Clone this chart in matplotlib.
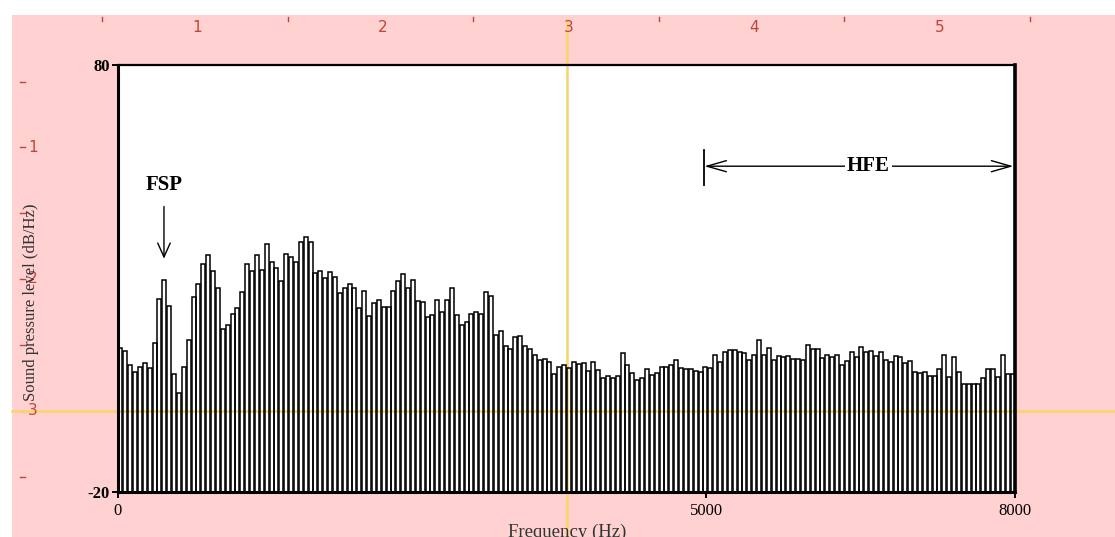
import numpy as np
import matplotlib
matplotlib.use("Agg")
import matplotlib.pyplot as plt
from matplotlib.patches import Rectangle

# Long-term average spectrum: level per frequency band (dB/Hz), 0-8000 Hz
levels_db = [
    13.8, 13.1, 9.7, 8.2, 9.3, 10.3, 9.0, 15.0, 25.2, 29.6,
    23.6, 7.6, 3.3, 9.3, 15.6, 25.6, 28.6, 33.3, 35.5, 31.8,
    27.7, 18.2, 19.1, 21.7, 23.0, 26.8, 33.3, 31.8, 35.5, 32.0,
    38.0, 33.9, 32.4, 29.5, 35.8, 35.0, 33.9, 38.5, 39.8, 38.5,
    31.2, 31.8, 30.1, 31.6, 30.4, 26.5, 27.8, 28.7, 27.8, 23.1,
    27.1, 21.3, 24.3, 24.9, 23.3, 23.3, 27.1, 29.3,
    31.1, 27.8, 29.6, 24.7, 24.5, 20.9, 21.5, 24.9, 22.1, 24.9,
    27.7, 21.5, 19.1, 19.9, 21.8, 22.1, 21.8, 26.8, 25.9, 16.8,
    17.8, 14.1, 13.5, 16.3, 16.6, 14.3, 13.4, 12.2, 11.0, 11.1,
    10.4, 7.6, 9.3, 9.7,
    9.1, 10.4, 9.9, 10.1, 8.3, 10.4, 8.6, 6.6, 7.2, 6.6, 7.2, 12.5,
    9.7, 7.9, 6.2, 6.6, 8.8, 7.4, 7.9, 9.3, 9.3, 9.7,
    10.9, 9.1, 8.7, 8.7, 8.4, 8.2, 9.3, 9.1, 12.2, 10.4,
    12.9, 13.3, 13.3, 12.7, 12.6, 11.0, 12.2, 15.6, 12.0, 13.8,
    10.9, 11.9, 11.5, 11.9,
    11.1, 11.2, 10.9, 14.4, 13.4, 13.4, 11.3, 12.2, 11.5, 12.2,
    9.7, 10.7, 12.9, 11.5, 14.0, 12.9, 13.1, 11.9, 12.9, 10.9,
    10.5, 11.9, 11.5, 10.3, 10.7, 8.2, 7.9, 8.2, 7.2, 7.2,
    8.8, 12.2, 7.0, 11.5, 8.2, 5.3, 5.3, 5.3, 5.3, 6.6,
    8.8, 8.8, 7.0, 12.2, 7.6, 7.6,
]

f_max = 8000.0
y_min, y_max = -20, 80
x_tick_pos = [0, 5245, 8000]
x_tick_labels = ["0", "5000", "8000"]
y_tick_labels = ["-20", "80"]
hfe_start = 5230          # start of the high-frequency-energy band
fsp_freq = 410            # frequency of the FSP peak
top_ruler_labels = ["1", "2", "3", "4", "5"]
left_ruler_labels = ["1", "2", "3"]

W, H = 1115, 537
PINK = "#ffd1d1"
RULER = "#c0443a"
YELLOW = "#f6d56a"
SERIF = ["Liberation Serif", "DejaVu Serif"]

fig = plt.figure(figsize=(W / 100, H / 100), dpi=100)
fig.patch.set_facecolor("white")

# Background canvas in pixel units (window, rulers, crosshair)
bg = fig.add_axes([0, 0, 1, 1], zorder=0)
bg.set_xlim(0, W)
bg.set_ylim(H, 0)
bg.axis("off")
bg.add_patch(Rectangle((12, 15), W - 12, H - 15, facecolor=PINK, edgecolor="none"))

ax_l, ax_r, ax_t, ax_b = 118, 1015, 65, 492
bg.add_patch(Rectangle((ax_l, ax_t), ax_r - ax_l, ax_b - ax_t,
                       facecolor="white", edgecolor="none"))

# top ruler
step_top = 185.6
for k in range(6):
    x = 102 + k * step_top
    bg.plot([x, x], [17, 21], color=RULER, lw=1.0)
for k, lab in enumerate(top_ruler_labels):
    bg.text(197 + k * step_top, 27, lab, color=RULER, fontsize=11,
            ha="center", va="center", family="DejaVu Sans")

# left ruler
step_left = 65.9
for k in range(7):
    y = 81.5 + k * step_left
    bg.plot([20, 25], [y, y], color=RULER, lw=1.0)
for k, lab in enumerate(left_ruler_labels):
    bg.text(28, 147 + 2 * k * step_left, lab, color=RULER, fontsize=11,
            ha="left", va="center", family="DejaVu Sans")

# crosshair
bg.plot([567, 567], [20, H], color=YELLOW, lw=1.8)
bg.plot([12, W], [411, 411], color=YELLOW, lw=1.8)

# Spectrum axes
ax = fig.add_axes([ax_l / W, 1 - ax_b / H, (ax_r - ax_l) / W, (ax_b - ax_t) / H],
                  zorder=2)
ax.patch.set_alpha(0)

n = len(levels_db)
bw = f_max / n
centers = (np.arange(n) + 0.5) * bw
vals = np.array(levels_db)
ax.bar(centers, vals - y_min, bottom=y_min, width=bw * 0.8,
       facecolor="none", edgecolor="black", linewidth=1.1)

ax.set_xlim(0, f_max)
ax.set_ylim(y_min, y_max)

for side, lw in (("left", 2.2), ("bottom", 2.2), ("top", 1.6), ("right", 2.6)):
    ax.spines[side].set_linewidth(lw)
    ax.spines[side].set_color("black")

ax.set_xticks(x_tick_pos)
ax.set_xticklabels(x_tick_labels, family=SERIF, fontsize=12)
ax.set_yticks([y_min, y_max])
ax.set_yticklabels(y_tick_labels, family=SERIF, fontsize=12, fontweight="bold")
ax.tick_params(axis="both", length=4, width=1.4, color="black", pad=2)
ax.tick_params(axis="x", pad=4)

# FSP annotation
ax.text(fsp_freq, 51.9, "FSP", family=SERIF, fontsize=15, fontweight="bold",
        ha="center", va="center")
ax.annotate("", xy=(fsp_freq, 34.0), xytext=(fsp_freq, 47.5),
            arrowprops=dict(arrowstyle="->,head_length=1.0,head_width=0.45",
                            color="black", lw=1.0))

# HFE annotation
ax.plot([hfe_start, hfe_start], [51.9, 60.2], color="black", lw=1.3)
ax.annotate("", xy=(hfe_start, 56.3), xytext=(7985, 56.3),
            arrowprops=dict(arrowstyle="<->,head_length=1.4,head_width=0.4",
                            color="black", lw=1.0, shrinkA=0, shrinkB=0))
ax.text(6690, 56.3, "HFE", family=SERIF, fontsize=15, fontweight="bold",
        ha="center", va="center",
        bbox=dict(facecolor="white", edgecolor="none", pad=1.5))

# axis titles
bg.text(567, 524, "Frequency (Hz)", family=SERIF, fontsize=13.5, color="#333333",
        ha="center", va="top")
bg.text(31, 302, "Sound pressure level (dB/Hz)", family=SERIF, fontsize=12,
        color="#333333", rotation=90, ha="center", va="center")

fig.savefig("out.png", dpi=100)
